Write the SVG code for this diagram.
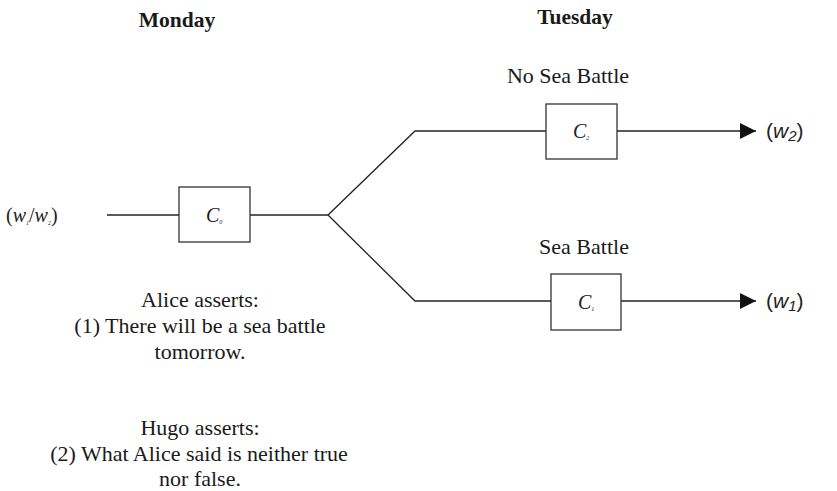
<svg xmlns="http://www.w3.org/2000/svg" width="837" height="491" viewBox="0 0 837 491">
<style>
.t{font-family:"Liberation Serif",serif;font-size:22px;fill:#1a1a1a;text-anchor:middle}
.b{font-weight:bold;font-size:21.5px}
.ln{stroke:#222;stroke-width:1.3;fill:none}
.box{stroke:#333;stroke-width:1.3;fill:#fff}
.c{font-family:"Liberation Serif",serif;font-size:20px;fill:#222}
.i{font-style:italic}
.s{font-size:6px}
.w{font-family:"Liberation Sans",sans-serif;font-size:21px;fill:#222}
</style>
<defs>
<marker id="ah" viewBox="0 0 10 10" refX="10" refY="5" markerWidth="16" markerHeight="16" markerUnits="userSpaceOnUse" orient="auto">
<path d="M0,0 L10,5 L0,10 z" fill="#111"/>
</marker>
</defs>
<g id="headers">
<text class="t b" x="177" y="27">Monday</text>
<text class="t b" x="575" y="24">Tuesday</text>
</g>
<g id="connectors">
<line class="ln" x1="107" y1="215" x2="179" y2="215"/>
<line class="ln" x1="250" y1="215" x2="328" y2="215"/>
<polyline class="ln" points="328,215 415,131 546,131"/>
<polyline class="ln" points="328,215 415,301 551,301"/>
<line class="ln" x1="617" y1="131" x2="756" y2="131" marker-end="url(#ah)"/>
<line class="ln" x1="621" y1="301" x2="756" y2="301" marker-end="url(#ah)"/>
</g>
<g id="start">
<text class="c" x="6" y="222">(<tspan class="i">w</tspan><tspan class="s i" dy="3">1</tspan><tspan dy="-3">/</tspan><tspan class="i">w</tspan><tspan class="s i" dy="3">2</tspan><tspan dy="-3">)</tspan></text>
</g>
<g id="c0">
<rect class="box" x="179" y="187" width="71" height="55"/>
<text class="c i" x="206" y="222">C<tspan class="s" dy="2">0</tspan></text>
</g>
<g id="c2">
<text class="t" x="568" y="83">No Sea Battle</text>
<rect class="box" x="546" y="104" width="71" height="55"/>
<text class="c i" x="573" y="138">C<tspan class="s" dy="2">2</tspan></text>
</g>
<g id="c1">
<text class="t" x="584" y="254">Sea Battle</text>
<rect class="box" x="551" y="274" width="70" height="56"/>
<text class="c i" x="578" y="309">C<tspan class="s" dy="2">1</tspan></text>
</g>
<g id="w2">
<text class="w" x="766" y="138">(<tspan font-style="italic">w</tspan><tspan font-style="italic" font-size="15" dy="3">2</tspan><tspan dy="-3">)</tspan></text>
</g>
<g id="w1">
<text class="w" x="766" y="308">(<tspan font-style="italic">w</tspan><tspan font-style="italic" font-size="15" dy="3">1</tspan><tspan dy="-3">)</tspan></text>
</g>
<g id="alice">
<text class="t" x="200" y="307">Alice asserts:</text>
<text class="t" x="200" y="333">(1) There will be a sea battle</text>
<text class="t" x="200" y="359">tomorrow.</text>
</g>
<g id="hugo">
<text class="t" x="200" y="435">Hugo asserts:</text>
<text class="t" x="199" y="461">(2) What Alice said is neither true</text>
<text class="t" x="200" y="486">nor false.</text>
</g>
</svg>
